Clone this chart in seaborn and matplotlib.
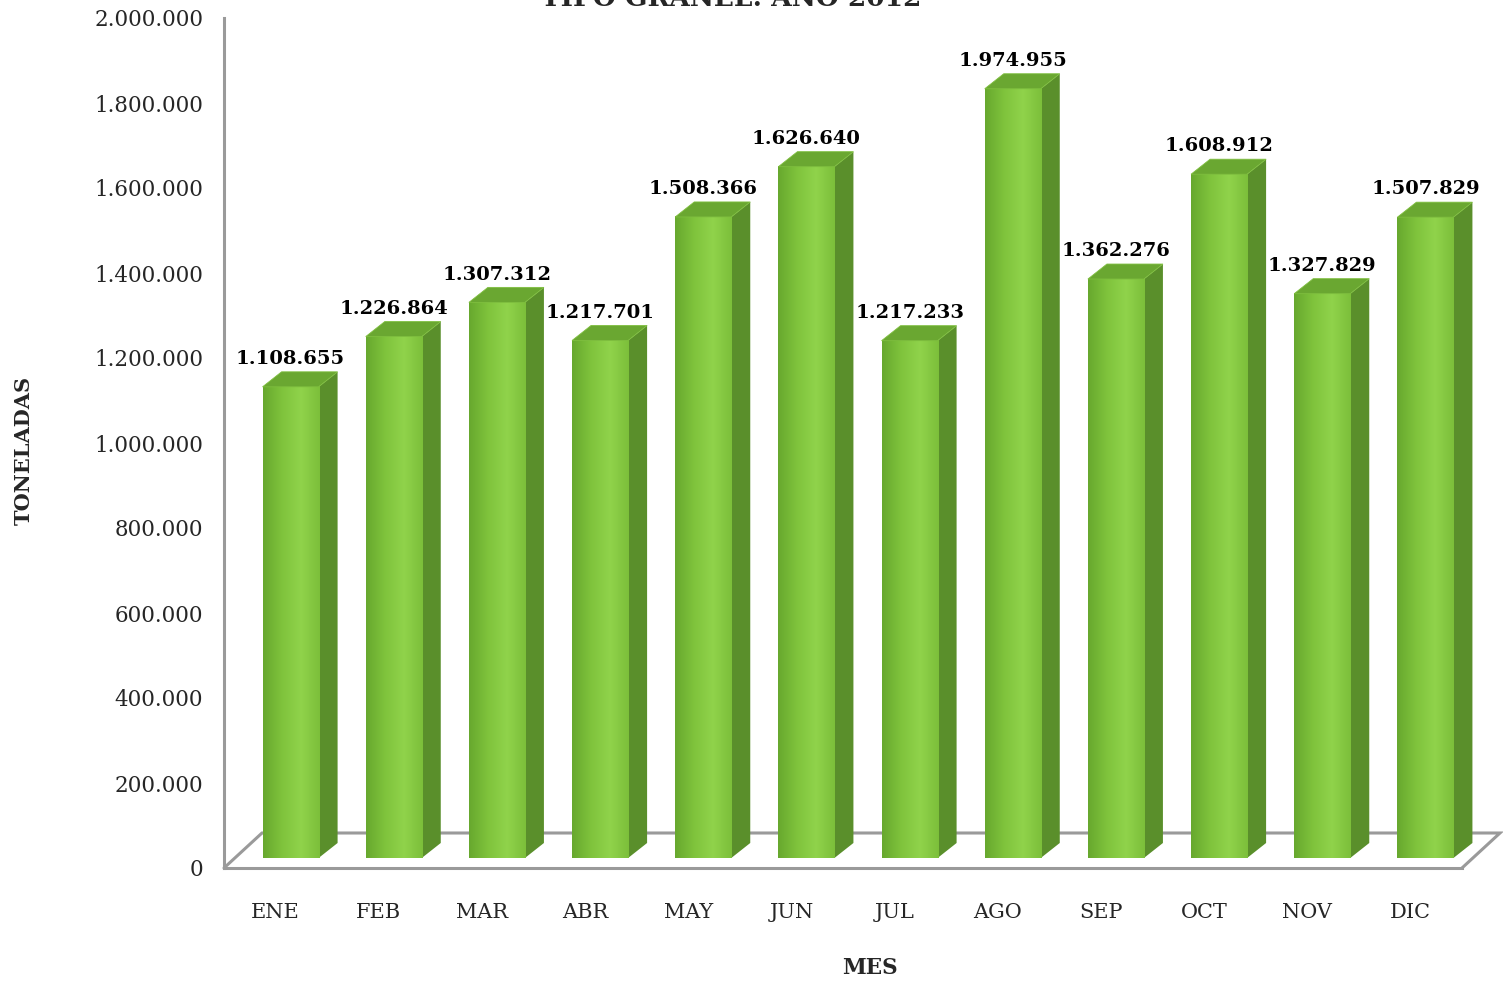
import numpy as np
import pandas as pd
import matplotlib
matplotlib.use('Agg')
import matplotlib.pyplot as plt
from matplotlib.colors import LinearSegmentedColormap
from matplotlib.patches import Polygon
from matplotlib.ticker import FuncFormatter, MultipleLocator
import seaborn as sns

# datos: toneladas por mes, tipo granel 2012
meses = ['ENE', 'FEB', 'MAR', 'ABR', 'MAY', 'JUN', 'JUL', 'AGO', 'SEP', 'OCT', 'NOV', 'DIC']
toneladas = [1108655, 1226864, 1307312, 1217701, 1508366, 1626640,
             1217233, 1974955, 1362276, 1608912, 1327829, 1507829]
# altura de barra tal como aparece dibujada (AGO es mas baja que su etiqueta)
altura_barra = [1108655, 1226864, 1307312, 1217701, 1508366, 1626640,
                1217233, 1810000, 1362276, 1608912, 1327829, 1507829]

sns.set_style('white')
plt.rcParams['font.family'] = ['DejaVu Serif']

W, H = 1503, 981
fig = plt.figure(figsize=(W / 100, H / 100), dpi=100)
ax = fig.add_axes([224 / W, 1 - 868 / H, (1462 - 224) / W, (868 - 18) / H])

df = pd.DataFrame({'mes': meses, 'valor': altura_barra})
sns.barplot(data=df, x='mes', y='valor', color='#7dc23a', saturation=1,
            width=0.543, ax=ax, zorder=3)

px_x = 1 / 103.17          # unidades de datos por pixel (x)
px_y = 1e6 / 425           # unidades de datos por pixel (y)
dx, dy = 19 * px_x, 15 * px_y
base = 10 * px_y
shift = 15 * px_x

front_cmap = LinearSegmentedColormap.from_list(
    'front', ['#67a82e', '#7fc33c', '#90d34b', '#7cbf3a'])
grad = np.linspace(0, 1, 256).reshape(1, -1)

gray = '#9a9a9a'
# piso 3D
x0, x1 = -0.5, 11.5
ddx, ddy = 38 * px_x, 35 * px_y
ax.plot([x0, x0 + ddx, x1 + ddx, x1], [0, ddy, ddy, 0], color=gray, lw=2.2,
        clip_on=False, zorder=1, solid_joinstyle='miter')

for p, lab in zip(ax.patches, toneladas):
    h = p.get_height()
    p.set_x(p.get_x() + shift)
    p.set_y(base)
    xl, xr = p.get_x(), p.get_x() + p.get_width()
    top = base + h
    p.set_edgecolor('none')
    im = ax.imshow(grad, cmap=front_cmap, extent=(xl, xr, base, top),
                   aspect='auto', zorder=3.1, clip_on=False)
    im.set_clip_path(p)
    side = Polygon([(xr, base), (xr + dx, base + dy), (xr + dx, top + dy), (xr, top)],
                   closed=True, fc='#5a8f2b', ec='none', zorder=3, clip_on=False)
    tapa = Polygon([(xl, top), (xl + dx, top + dy), (xr + dx, top + dy), (xr, top)],
                   closed=True, fc='#6aa731', ec='#7fbf3f', lw=0.6, zorder=3.2,
                   clip_on=False)
    ax.add_patch(side)
    ax.add_patch(tapa)
    ax.annotate(f'{lab:,}'.replace(',', '.'), ((xl + xr) / 2, top),
                xytext=(0, 20), textcoords='offset points', ha='center', va='center',
                fontsize=14, fontweight='bold', color='black', zorder=5,
                annotation_clip=False)

ax.set_xlim(x0, x1)
ax.set_ylim(0, 2000000)
ax.yaxis.set_major_locator(MultipleLocator(200000))
ax.yaxis.set_major_formatter(FuncFormatter(lambda v, _: f'{int(v):,}'.replace(',', '.')))

# marcas del eje x en los limites de categoria
ax.set_xticks(np.arange(-0.5, 12, 1), minor=True)
ax.set_xticks(range(12))
ax.set_xticklabels(meses)
ax.tick_params(axis='x', which='major', length=0, pad=25, labelsize=15)
ax.tick_params(axis='x', which='minor', length=6, width=1.6, color=gray, direction='out')
ax.tick_params(axis='y', length=6, width=1.6, color=gray, direction='out',
               pad=9, labelsize=15.5)

for s in ['top', 'right']:
    ax.spines[s].set_visible(False)
ax.spines['left'].set_color(gray)
ax.spines['left'].set_linewidth(2.2)
ax.spines['bottom'].set_color(gray)
ax.spines['bottom'].set_linewidth(2.2)
ax.set_xlabel('')
ax.set_ylabel('')

fig.text(24 / W, 1 - 450 / H, 'TONELADAS', rotation=90, ha='center', va='center',
         fontsize=15, fontweight='bold')
fig.text(870 / W, 1 - 968 / H, 'MES', ha='center', va='center',
         fontsize=15.5, fontweight='bold')
fig.text(731 / W, 1 - 6 / H, 'TIPO GRANEL: AÑO 2012', ha='center', va='baseline',
         fontsize=19, fontweight='bold')

fig.savefig('out.png', dpi=100)
